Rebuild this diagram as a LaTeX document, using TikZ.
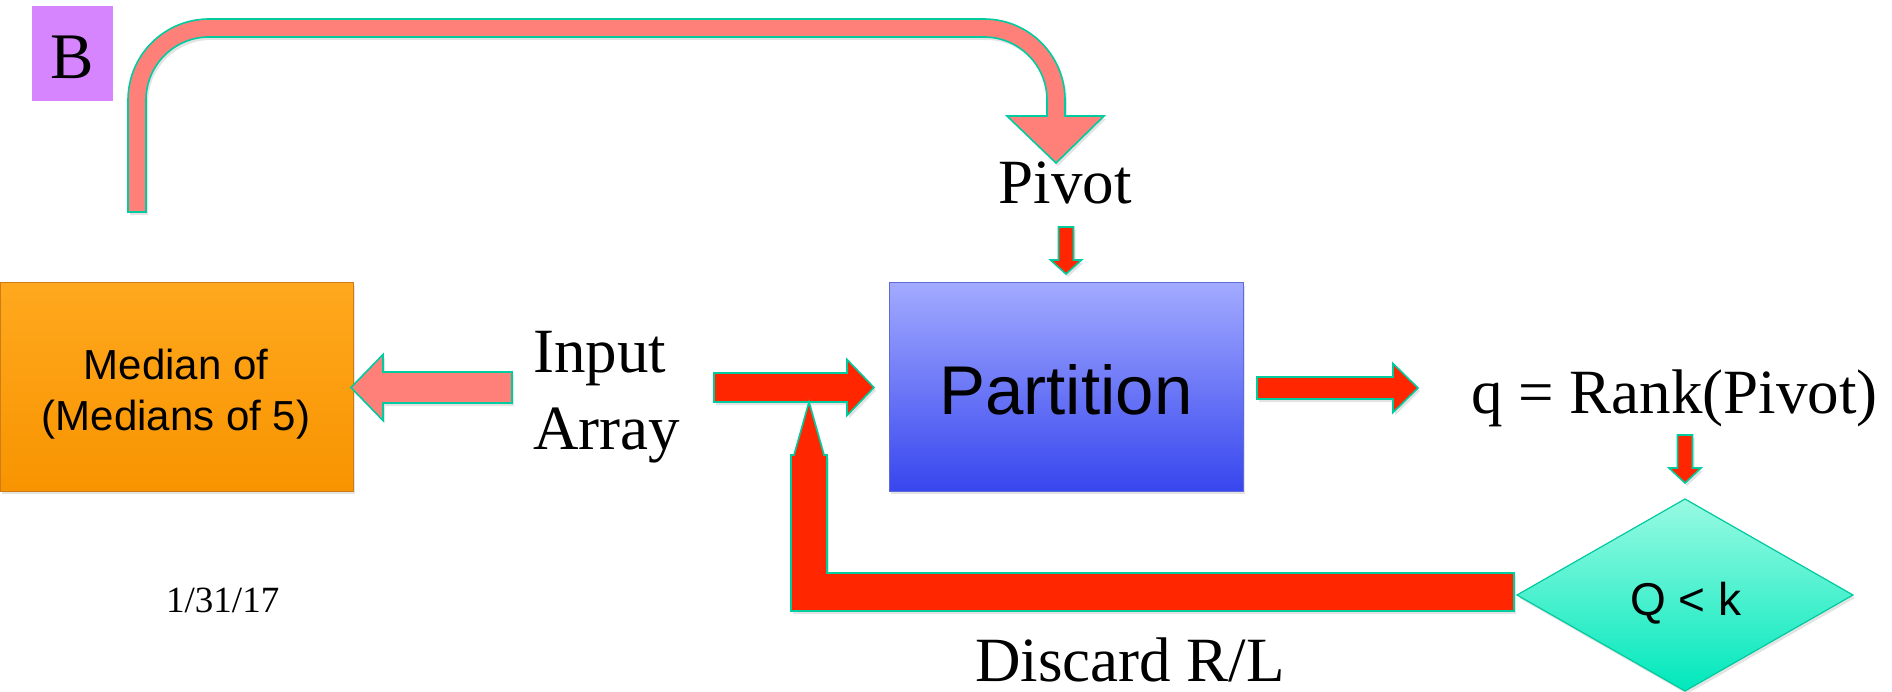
\documentclass[tikz,border=0pt]{standalone}
\usepackage{fontspec}
\setmainfont{Liberation Serif}
\newfontfamily\comicf{Liberation Sans}
\usetikzlibrary{shadows}
\definecolor{salmon}{RGB}{255,128,121}
\definecolor{redarr}{RGB}{255,38,0}
\definecolor{tealline}{RGB}{0,204,160}
\definecolor{violetbox}{RGB}{214,133,255}
\tikzset{
  blk/.style={draw=tealline, line width=1.6pt, line join=miter},
  salmonarr/.style={blk, fill=salmon},
  redarrow/.style={blk, fill=redarr},
  shad/.style={drop shadow={shadow xshift=2pt, shadow yshift=-3pt, opacity=0.22}},
  serif/.style={inner sep=0pt, font=\fontsize{63}{72}\selectfont},
  comic/.style={inner sep=0pt},
}
% horizontal block arrow: style, x tail, x head base, x tip, y centre, shaft half width, head half width
\newcommand\hblk[7]{\filldraw[#1] (#2,#5-#6) -- (#3,#5-#6) -- (#3,#5-#7) -- (#4,#5) -- (#3,#5+#7) -- (#3,#5+#6) -- (#2,#5+#6) -- cycle;}
% vertical block arrow: style, x centre, y tail, y head base, y tip, shaft half width, head half width
\newcommand\vblk[7]{\filldraw[#1] (#2-#6,#3) -- (#2-#6,#4) -- (#2-#7,#4) -- (#2,#5) -- (#2+#7,#4) -- (#2+#6,#4) -- (#2+#6,#3) -- cycle;}
\begin{document}
\begin{tikzpicture}[x=1pt,y=-1pt]
\useasboundingbox (0,0) rectangle (1892,692);

% B tag
\node[fill=violetbox, minimum width=81pt, minimum height=95pt, inner sep=0pt] (bbox) at (72.5,54) {};
\node[serif, anchor=base, font=\fontsize{65}{70}\selectfont] (blbl) at (72.5,79) {B};

% top curved arrow
\filldraw[salmonarr, shad] (128,212) -- (128,100) arc[start angle=180, end angle=270, radius=81]
  -- (984,19) arc[start angle=270, end angle=360, radius=81]
  -- (1065,116) -- (1104,116) -- (1056,163) -- (1007,116) -- (1047,116) -- (1047,100)
  arc[start angle=0, end angle=-90, radius=63] -- (209,37)
  arc[start angle=270, end angle=180, radius=63] -- (146,212) -- cycle;

% Pivot
\node[serif, anchor=base] (pivot) at (1065,204) {Pivot};
\vblk{redarrow,shad}{1066}{227}{260}{274}{7.5}{15.5}

% Median box
\node[draw={rgb,255:red,205;green,125;blue,20}, line width=1pt,
      top color={rgb,255:red,255;green,168;blue,30}, bottom color={rgb,255:red,248;green,148;blue,0},
      minimum width=353pt, minimum height=208pt, inner sep=0pt, shad] (med) at (176.5,387) {};
\node[comic, anchor=base, font=\comicf\fontsize{42}{50}\selectfont] (medl1) at (176,380) {Median of};
\node[comic, anchor=base, font=\comicf\fontsize{42}{50}\selectfont] (medl2) at (176,430) {(Medians of 5)};

% Input Array
\node[serif, anchor=base west] (inp) at (533,373) {Input};
\node[serif, anchor=base west] (arr) at (533,449) {Array};

% arrows from input
\hblk{salmonarr,shad}{512}{383}{351}{387.5}{15.5}{33}
\hblk{redarrow,shad}{714}{847}{874}{387.5}{14.5}{28}

% Partition box
\node[draw={rgb,255:red,95;green,105;blue,215}, line width=1pt,
      top color={rgb,255:red,162;green,170;blue,255}, bottom color={rgb,255:red,55;green,70;blue,238},
      minimum width=354pt, minimum height=208pt, inner sep=0pt, shad] (part) at (1066,387) {};
\node[comic, anchor=base, font=\comicf\fontsize{69}{80}\selectfont] (partlbl) at (1066,414) {Partition};

\hblk{redarrow,shad}{1257}{1393}{1418}{388}{11}{24.5}

% q = Rank(Pivot)
\node[serif, anchor=base west] (rank) at (1471,413) {q = Rank(Pivot)};
\vblk{redarrow,shad}{1685}{435}{468}{483}{7.5}{16}

% decision diamond
\filldraw[draw=tealline, line width=1.2pt,
      top color={rgb,255:red,152;green,250;blue,226}, bottom color={rgb,255:red,0;green,232;blue,188}, shad]
  (1685,499) -- (1853,595) -- (1685,691) -- (1517,595) -- cycle;
\coordinate (dec) at (1685,595);
\node[comic, anchor=base, font=\comicf\fontsize{46}{50}\selectfont] (declbl) at (1686,615) {Q < k};

% discard feedback arrow
\filldraw[redarrow, shad] (1514,573) -- (827,573) -- (827,455) -- (824,455) -- (809,402) -- (794,455)
  -- (791,455) -- (791,611) -- (1514,611) -- cycle;
\node[serif, anchor=base] (disc) at (1130,681) {Discard R/L};

% date
\node[serif, anchor=base west, font=\fontsize{37}{40}\selectfont] (date) at (166,612) {1/31/17};
\end{tikzpicture}
\end{document}
